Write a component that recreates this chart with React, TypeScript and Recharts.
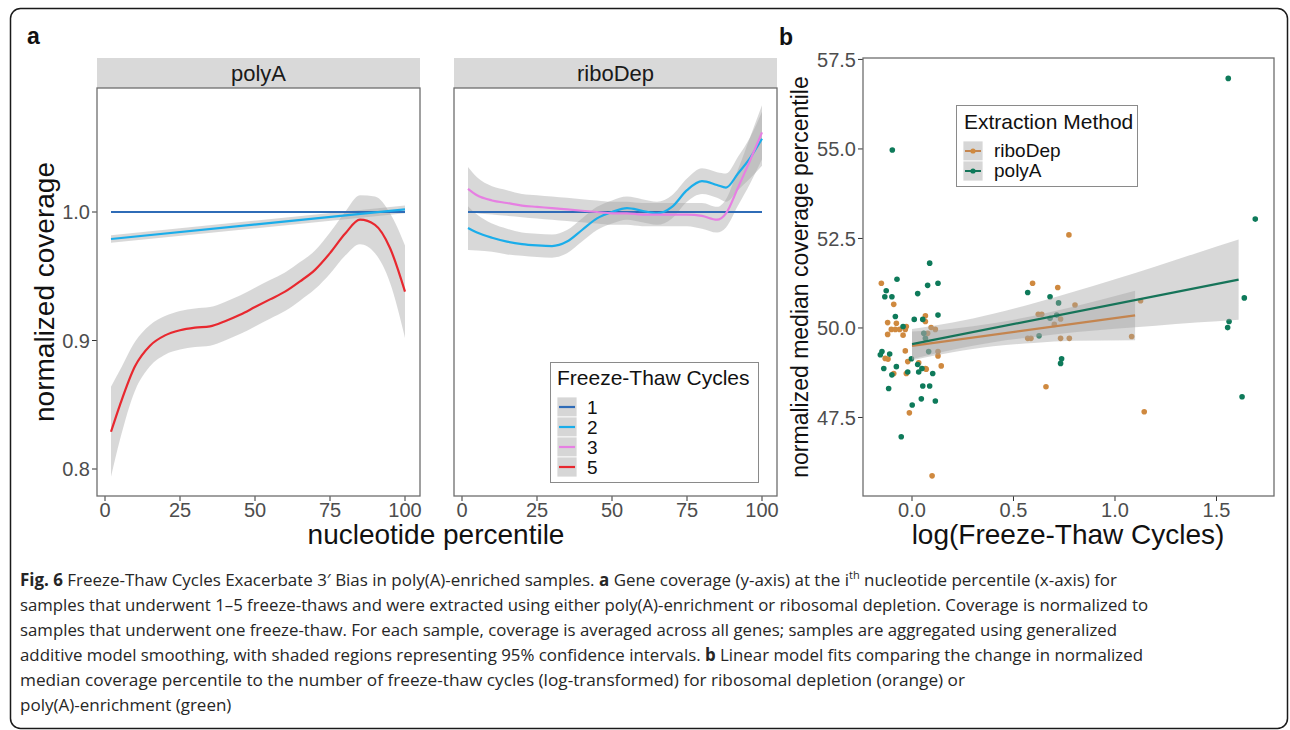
import React from "react";
import { ComposedChart, Line, Area, Scatter, XAxis, YAxis } from "recharts";

const SANS = "'Liberation Sans', Arial, Helvetica, sans-serif";
const CAPTION_FONT = "'Open Sans', 'Liberation Sans', sans-serif";

const C1 = "#2f6cb7";
const C2 = "#1aadea";
const C3 = "#e67fe2";
const C5 = "#e8282f";
const RIBBON = "#a3a3a3";
const GREEN = "#0e7a5a";
const ORANGE = "#cf893f";
const GREEN_FIT = "#167459";
const ORANGE_FIT = "#c4854f";

// ---------- panel a: normalized coverage along the transcript ----------
const pctTicks = [0, 25, 50, 75, 100];
const covTicks = [0.8, 0.9, 1.0];

// polyA, 1 and 2 freeze-thaw cycles (endpoints of straight fits)
const polyAFlatX = [2, 100];
const polyA1 = [1.0, 1.0];
const polyA2 = [0.979, 1.002];
const polyA2Se = [0.003, 0.003];

// polyA, 5 freeze-thaw cycles
const polyA5X = [2, 5, 10, 15, 20, 25, 30, 35, 40, 45, 50, 55, 60, 65, 70, 75, 80, 85, 90, 95, 100];
const polyA5 = [0.829, 0.85, 0.88, 0.896, 0.904, 0.908, 0.91, 0.911, 0.915, 0.92, 0.926, 0.932, 0.938, 0.946, 0.955, 0.968, 0.983, 0.994, 0.99, 0.972, 0.938];
const polyA5Se = [0.035, 0.027, 0.019, 0.016, 0.015, 0.015, 0.015, 0.015, 0.015, 0.015, 0.015, 0.015, 0.015, 0.015, 0.015, 0.016, 0.017, 0.019, 0.022, 0.027, 0.036];

// riboDep
const riboFlatX = [2, 100];
const ribo1 = [1.0, 1.0];
const riboX = [2, 5, 10, 15, 20, 25, 30, 35, 40, 45, 50, 55, 60, 65, 70, 75, 80, 85, 88, 92, 96, 100];
const ribo2 = [0.9875, 0.984, 0.98, 0.977, 0.975, 0.974, 0.9735, 0.977, 0.986, 0.995, 1.0, 1.003, 1.001, 0.999, 1.004, 1.017, 1.024, 1.021, 1.019, 1.03, 1.042, 1.057];
const ribo2Se = [0.017, 0.014, 0.011, 0.01, 0.009, 0.009, 0.009, 0.009, 0.009, 0.009, 0.009, 0.009, 0.009, 0.009, 0.009, 0.009, 0.01, 0.01, 0.011, 0.013, 0.016, 0.021];
const ribo3 = [1.018, 1.013, 1.009, 1.007, 1.005, 1.004, 1.003, 1.002, 1.001, 1.0, 0.999, 0.999, 0.998, 0.998, 0.998, 0.998, 0.997, 0.994, 0.999, 1.019, 1.04, 1.062];
const ribo3Se = [0.017, 0.014, 0.011, 0.01, 0.009, 0.009, 0.009, 0.009, 0.009, 0.009, 0.009, 0.009, 0.009, 0.009, 0.009, 0.009, 0.01, 0.01, 0.011, 0.014, 0.018, 0.021];

const cycleLabels = ["1", "2", "3", "5"];
const cycleColors = [C1, C2, C3, C5];

// ---------- panel b: median coverage percentile vs log(cycles) ----------
const logTicks = [0, 0.5, 1.0, 1.5];
const medTicks = [47.5, 50.0, 52.5, 55.0, 57.5];

const riboDepX = [-0.151, -0.09, 0.066, 0.066, -0.12, -0.077, -0.102, -0.082, -0.061, -0.033, -0.028, -0.12, -0.044, 0.094, 0.115, 0.077, -0.132, -0.118, -0.033, 0.128, 0.128, -0.021, 0.033, 0.066, 0.144, -0.09, -0.028, 0.07, -0.013, 0.099, 0.594, 0.718, 0.803, 0.622, 0.639, 0.732, 0.701, 0.57, 0.586, 0.732, 0.775, 0.773, 0.66, 1.126, 1.082, 1.144];
const riboDepY = [51.25, 50.66, 50.34, 50.18, 50.15, 50.13, 49.96, 49.96, 49.96, 49.96, 50.04, 49.82, 49.8, 50.01, 49.96, 49.85, 49.15, 49.13, 49.36, 49.34, 49.22, 49.06, 49.03, 48.87, 48.94, 48.73, 48.73, 48.85, 47.63, 45.87, 51.25, 51.13, 50.64, 50.38, 50.38, 50.25, 50.1, 49.71, 49.71, 49.71, 49.71, 52.6, 48.36, 50.76, 49.76, 47.66];

const polyAX = [-0.097, 1.558, 1.691, 0.57, 0.68, 0.722, 0.713, 0.68, 0.626, 0.737, 0.732, 1.637, 1.562, 1.555, 1.626, 0.087, -0.074, 0.077, 0.128, -0.127, -0.134, -0.099, 0.028, -0.082, 0.011, 0.053, 0.128, -0.044, 0.058, 0.066, -0.148, -0.156, -0.11, 0.082, -0.003, 0.028, 0.049, -0.139, -0.077, -0.099, -0.021, 0.033, 0.102, -0.115, 0.053, 0.087, 0.046, 0.115, 0.001, -0.053];
const polyAY = [54.97, 56.97, 53.04, 50.99, 50.87, 50.7, 50.36, 50.27, 49.78, 49.14, 49.01, 50.84, 50.18, 50.01, 48.08, 51.81, 51.36, 51.19, 51.25, 51.04, 50.87, 50.87, 50.96, 50.32, 50.24, 50.24, 50.36, 50.04, 49.85, 49.71, 49.34, 49.25, 49.27, 49.34, 49.14, 48.98, 48.87, 48.87, 48.92, 48.69, 48.77, 48.77, 48.73, 48.31, 48.38, 48.38, 48.02, 47.96, 47.85, 46.96];

// linear fits with 95% confidence bands
const polyAFitX = [0, 1.609];
const polyAFitY = [49.55, 51.35];
const polyABandX = [0, 0.2, 0.4, 0.6, 0.8, 1.0, 1.2, 1.4, 1.609];
const polyABandLo = [49.13, 49.39, 49.6, 49.75, 49.88, 49.98, 50.06, 50.15, 50.23];
const polyABandHi = [49.97, 50.15, 50.4, 50.69, 51.02, 51.36, 51.72, 52.09, 52.47];

const riboFitX = [0, 1.099];
const riboFitY = [49.5, 50.35];
const riboBandX = [0, 0.2, 0.4, 0.6, 0.8, 1.099];
const riboBandLo = [49.1, 49.32, 49.49, 49.58, 49.64, 49.66];
const riboBandHi = [49.9, 49.98, 50.13, 50.34, 50.6, 51.04];

// ---------- helpers ----------
const rows = (xs: number[], ys: number[]) => xs.map((x, i) => ({ x, y: ys[i] }));
const seBand = (xs: number[], ys: number[], se: number[]) =>
  xs.map((x, i) => ({ x, range: [ys[i] - se[i], ys[i] + se[i]] }));
const loHiBand = (xs: number[], lo: number[], hi: number[]) =>
  xs.map((x, i) => ({ x, range: [lo[i], hi[i]] }));

const tickStyle = { fill: "#4d4d4d", fontSize: 20, fontFamily: SANS };
const tickLine = { stroke: "#333333", strokeWidth: 1 };

type Curve = { name: string; color: string; line: { x: number; y: number }[]; band?: { x: number; range: number[] }[] };

const polyACurves: Curve[] = [
  { name: "1", color: C1, line: rows(polyAFlatX, polyA1) },
  { name: "2", color: C2, line: rows(polyAFlatX, polyA2), band: seBand(polyAFlatX, polyA2, polyA2Se) },
  { name: "5", color: C5, line: rows(polyA5X, polyA5), band: seBand(polyA5X, polyA5, polyA5Se) },
];

const riboCurves: Curve[] = [
  { name: "1", color: C1, line: rows(riboFlatX, ribo1) },
  { name: "2", color: C2, line: rows(riboX, ribo2), band: seBand(riboX, ribo2, ribo2Se) },
  { name: "3", color: C3, line: rows(riboX, ribo3), band: seBand(riboX, ribo3, ribo3Se) },
];

function coverageSeries(curves: Curve[]) {
  const out: React.ReactNode[] = [];
  curves.forEach((c) => {
    if (c.band) {
      out.push(
        <Area
          key={"band" + c.name}
          data={c.band}
          dataKey="range"
          type="monotone"
          stroke="none"
          fill={RIBBON}
          fillOpacity={0.42}
          isAnimationActive={false}
          activeDot={false}
        />
      );
    }
  });
  curves.forEach((c) => {
    out.push(
      <Line
        key={"line" + c.name}
        data={c.line}
        dataKey="y"
        type="monotone"
        stroke={c.color}
        strokeWidth={2.2}
        dot={false}
        activeDot={false}
        isAnimationActive={false}
      />
    );
  });
  return out;
}

const PCT_DOMAIN: [number, number] = [-2.667, 105];
const COV_DOMAIN: [number, number] = [0.779, 1.0965];
const LOG_DOMAIN: [number, number] = [-0.2414, 1.7833];
const MED_DOMAIN: [number, number] = [45.307, 57.54];

const dot = (color: string) => (p: any) => <circle cx={p.cx} cy={p.cy} r={2.8} fill={color} />;

function Caption() {
  const x0 = 20;
  const base = 586;
  const step = 25;
  const fill = "#262626";
  const common = { x: x0, fontFamily: CAPTION_FONT, fontSize: 17, fill, lengthAdjust: "spacingAndGlyphs" as const };
  return (
    <g>
      <text {...common} y={base} textLength={1097}>
        <tspan fontWeight="bold">Fig. 6</tspan> Freeze-Thaw Cycles Exacerbate 3′ Bias in poly(A)-enriched samples.{" "}
        <tspan fontWeight="bold">a</tspan> Gene coverage (y-axis) at the i
        <tspan fontSize={11} dy={-7}>th</tspan>
        <tspan dy={7}> nucleotide percentile (x-axis) for</tspan>
      </text>
      <text {...common} y={base + step} textLength={1128}>
        samples that underwent 1–5 freeze-thaws and were extracted using either poly(A)-enrichment or ribosomal depletion. Coverage is normalized to
      </text>
      <text {...common} y={base + step * 2} textLength={1097}>
        samples that underwent one freeze-thaw. For each sample, coverage is averaged across all genes; samples are aggregated using generalized
      </text>
      <text {...common} y={base + step * 3} textLength={1123}>
        additive model smoothing, with shaded regions representing 95% confidence intervals. <tspan fontWeight="bold">b</tspan> Linear model fits comparing the change in normalized
      </text>
      <text {...common} y={base + step * 4} textLength={945}>
        median coverage percentile to the number of freeze-thaw cycles (log-transformed) for ribosomal depletion (orange) or
      </text>
      <text x={x0} y={base + step * 5} fontFamily={CAPTION_FONT} fontSize={17} fill={fill}>
        poly(A)-enrichment (green)
      </text>
    </g>
  );
}

export default function App() {
  return (
    <div style={{ position: "absolute", left: 0, top: 0, width: 1290, height: 730, background: "#ffffff", overflow: "hidden" }}>
      {/* a: polyA facet */}
      <div style={{ position: "absolute", left: 0, top: 0 }}>
        <ComposedChart width={440} height={560} margin={{ top: 88, right: 20, bottom: 34, left: 37 }}>
          <XAxis type="number" dataKey="x" domain={PCT_DOMAIN} ticks={pctTicks} allowDataOverflow
            axisLine={false} tickLine={tickLine} tickSize={5} tick={tickStyle} height={30} interval={0} />
          <YAxis type="number" domain={COV_DOMAIN} ticks={covTicks} allowDataOverflow width={60}
            axisLine={false} tickLine={tickLine} tickSize={5} tick={tickStyle} interval={0}
            tickFormatter={(v: number) => v.toFixed(1)} />
          {coverageSeries(polyACurves)}
        </ComposedChart>
      </div>

      {/* a: riboDep facet */}
      <div style={{ position: "absolute", left: 440, top: 0 }}>
        <ComposedChart width={350} height={560} margin={{ top: 88, right: 13, bottom: 34, left: 14 }}>
          <XAxis type="number" dataKey="x" domain={PCT_DOMAIN} ticks={pctTicks} allowDataOverflow
            axisLine={false} tickLine={tickLine} tickSize={5} tick={tickStyle} height={30} interval={0} />
          <YAxis type="number" domain={COV_DOMAIN} ticks={covTicks} allowDataOverflow hide />
          {coverageSeries(riboCurves)}
        </ComposedChart>
      </div>

      {/* b: scatter with linear fits */}
      <div style={{ position: "absolute", left: 780, top: 0 }}>
        <ComposedChart width={510} height={560} margin={{ top: 58, right: 16, bottom: 34, left: 23 }}>
          <XAxis type="number" dataKey="x" domain={LOG_DOMAIN} ticks={logTicks} allowDataOverflow
            axisLine={false} tickLine={tickLine} tickSize={5} tick={tickStyle} height={30} interval={0}
            tickFormatter={(v: number) => v.toFixed(1)} />
          <YAxis type="number" domain={MED_DOMAIN} ticks={medTicks} allowDataOverflow width={60}
            axisLine={false} tickLine={tickLine} tickSize={5} tick={tickStyle} interval={0}
            tickFormatter={(v: number) => v.toFixed(1)} />
          <Scatter data={rows(riboDepX, riboDepY)} dataKey="y" shape={dot(ORANGE)} isAnimationActive={false} zIndex={50} />
          <Scatter data={rows(polyAX, polyAY)} dataKey="y" shape={dot(GREEN)} isAnimationActive={false} zIndex={50} />
          <Area data={loHiBand(riboBandX, riboBandLo, riboBandHi)} dataKey="range" type="monotone" stroke="none"
            fill={RIBBON} fillOpacity={0.42} isAnimationActive={false} activeDot={false} />
          <Area data={loHiBand(polyABandX, polyABandLo, polyABandHi)} dataKey="range" type="monotone" stroke="none"
            fill={RIBBON} fillOpacity={0.42} isAnimationActive={false} activeDot={false} />
          <Line data={rows(riboFitX, riboFitY)} dataKey="y" type="linear" stroke={ORANGE_FIT} strokeWidth={2.2}
            dot={false} activeDot={false} isAnimationActive={false} />
          <Line data={rows(polyAFitX, polyAFitY)} dataKey="y" type="linear" stroke={GREEN_FIT} strokeWidth={2.2}
            dot={false} activeDot={false} isAnimationActive={false} />
        </ComposedChart>
      </div>

      {/* frame, facet strips, panel borders, titles, legends and caption */}
      <svg width={1290} height={730} style={{ position: "absolute", left: 0, top: 0, pointerEvents: "none" }}>
        <rect x={10.5} y={8.5} width={1277} height={720} rx={10} fill="none" stroke="#1a1a1a" strokeWidth={1.5} />

        <text x={27} y={44} fontFamily={SANS} fontWeight="bold" fontSize={23} fill="#111">a</text>
        <text x={779} y={45} fontFamily={SANS} fontWeight="bold" fontSize={23} fill="#111">b</text>

        {/* facet strips */}
        <rect x={97} y={58} width={323} height={30} fill="#d9d9d9" />
        <text x={258.5} y={81} textAnchor="middle" fontFamily={SANS} fontSize={22} fill="#1a1a1a">polyA</text>
        <rect x={454} y={58} width={323} height={30} fill="#d9d9d9" />
        <text x={615.5} y={81} textAnchor="middle" fontFamily={SANS} fontSize={22} fill="#1a1a1a">riboDep</text>

        {/* panel borders */}
        <rect x={97} y={88} width={323} height={408} fill="none" stroke="#6e6e6e" strokeWidth={1.3} />
        <rect x={454} y={88} width={323} height={408} fill="none" stroke="#6e6e6e" strokeWidth={1.3} />
        <rect x={863} y={58} width={411} height={438} fill="none" stroke="#6e6e6e" strokeWidth={1.3} />

        {/* axis titles */}
        <text x={436} y={544} textAnchor="middle" fontFamily={SANS} fontSize={28} fill="#111">nucleotide percentile</text>
        <text x={54} y={292} textAnchor="middle" fontFamily={SANS} fontSize={28} fill="#111"
          transform="rotate(-90 54 292)">normalized coverage</text>
        <text x={1068} y={544} textAnchor="middle" fontFamily={SANS} fontSize={28} fill="#111">log(Freeze-Thaw Cycles)</text>
        <text x={808} y={277} textAnchor="middle" fontFamily={SANS} fontSize={23} fill="#111"
          transform="rotate(-90 808 277)">normalized median coverage percentile</text>

        {/* legend: freeze-thaw cycles */}
        <rect x={550.5} y={362.5} width={208} height={120} fill="#fff" stroke="#8a8a8a" strokeWidth={1} />
        <text x={557} y={385} fontFamily={SANS} fontSize={21} fill="#111">Freeze-Thaw Cycles</text>
        {cycleLabels.map((lab, i) => (
          <g key={lab}>
            <rect x={557} y={397 + i * 20} width={20} height={20} fill="#d6d6d6" stroke="#ffffff" strokeWidth={0.8} />
            <line x1={559} x2={575} y1={407 + i * 20} y2={407 + i * 20} stroke={cycleColors[i]} strokeWidth={2.2} />
            <text x={587} y={414 + i * 20} fontFamily={SANS} fontSize={19} fill="#111">{lab}</text>
          </g>
        ))}

        {/* legend: extraction method */}
        <rect x={956.5} y={105.5} width={181} height={81} fill="#fff" stroke="#8a8a8a" strokeWidth={1} />
        <text x={964} y={129} fontFamily={SANS} fontSize={21} fill="#111">Extraction Method</text>
        {[["riboDep", ORANGE_FIT, ORANGE], ["polyA", GREEN_FIT, GREEN]].map(([lab, lc, pc], i) => (
          <g key={lab}>
            <rect x={963} y={141 + i * 20} width={20} height={20} fill="#d6d6d6" stroke="#ffffff" strokeWidth={0.8} />
            <line x1={965} x2={981} y1={151 + i * 20} y2={151 + i * 20} stroke={lc} strokeWidth={2} />
            <circle cx={973} cy={151 + i * 20} r={2.6} fill={pc} />
            <text x={994} y={157 + i * 20} fontFamily={SANS} fontSize={19} fill="#111">{lab}</text>
          </g>
        ))}

        <Caption />
      </svg>
    </div>
  );
}
